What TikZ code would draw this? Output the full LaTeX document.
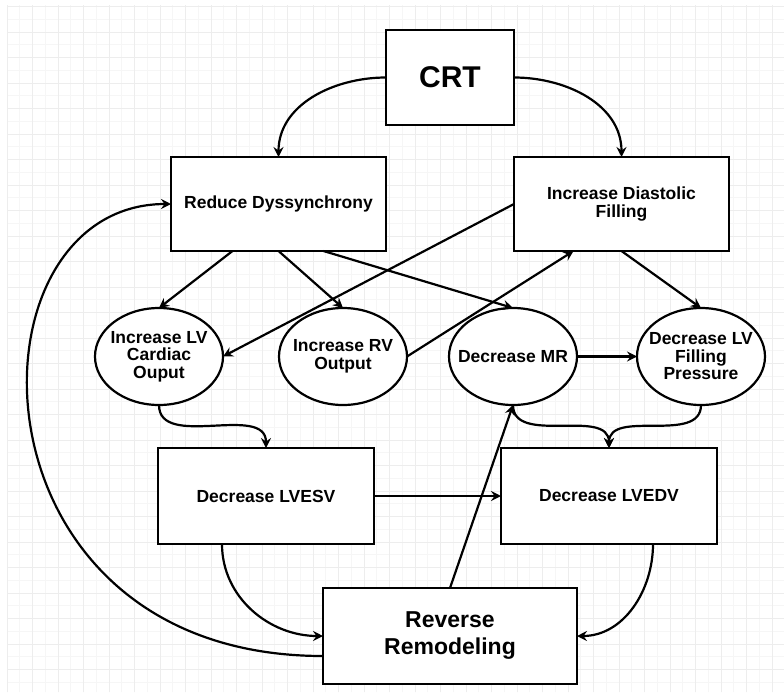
\documentclass[tikz,border=0pt]{standalone}
\usepackage{fontspec}
\setmainfont{Liberation Sans}
\usetikzlibrary{shapes.geometric, arrows.meta, positioning}

\begin{document}
\begin{tikzpicture}[
        x=1pt, y=1pt,
        >={Stealth[length=10pt, width=10pt, inset=3.5pt]},
        box/.style={rectangle, draw, line width=2.2pt, fill=white, outer sep=0pt, minimum width=215pt, minimum height=94pt, align=center, font=\bfseries\fontsize{17.5}{18}\selectfont},
        oval/.style={ellipse, draw, line width=2.2pt, fill=white, outer sep=0pt, minimum width=128pt, minimum height=97pt, inner xsep=-15pt, inner ysep=0pt, align=center, font=\bfseries\fontsize{17.5}{17.5}\selectfont},
        arr/.style={->, line width=2.2pt}
    ]
        % Grid paper
        \useasboundingbox (0,0) rectangle (784,-699);
        \fill[white] (0,0) rectangle (784,-699);
        \begin{scope}[shift={(7,-6.5)}]
            \draw[gray!7, line width=0.8pt, step=12.75] (0,1.5) grid (777,-685.5);
            \draw[gray!14, line width=1pt, step=25.5] (0,1.5) grid (777,-685.5);
        \end{scope}

        % Top row
        \node[box, minimum width=128pt, minimum height=95pt, font=\bfseries\fontsize{30}{34}\selectfont] (crt) at (450,-77.5) {CRT};
        \node[box, below left=32pt and 0pt of crt.south west] (dys) {Reduce Dyssynchrony};
        \node[box, below right=32pt and 0pt of crt.south east] (dia) {Increase Diastolic\\Filling};

        % Middle row
        \node[oval] (lvco) at (159,-356.5) {Increase LV\\Cardiac\\Ouput};
        \node[oval, right=56pt of lvco] (rvo) {Increase RV\\Output};
        \node[oval, right=42pt of rvo] (mr) {Decrease MR};
        \node[oval, right=60pt of mr] (lvfp) {Decrease LV\\Filling\\Pressure};

        % Lower rows
        \node[box, minimum width=216pt, minimum height=96pt] (esv) at (266,-496) {Decrease LVESV};
        \node[box, minimum width=216pt, minimum height=96pt, right=127pt of esv] (edv) {Decrease LVEDV};
        \node[box, minimum width=254pt, minimum height=96pt, font=\bfseries\fontsize{23}{27}\selectfont] (rr) at (450,-636) {Reverse\\Remodeling};

        \draw[arr] (crt.west) to[out=180, in=90] (dys.north);
        \draw[arr] (crt.east) to[out=0, in=90] (dia.north);

        \draw[arr] ([xshift=-46pt]dys.south) -- (lvco.north);
        \draw[arr] (dys.south) -- (rvo.north);
        \draw[arr] ([xshift=45pt]dys.south) -- (mr.north);
        \draw[arr] (dia.south) -- (lvfp.north);
        \draw[arr] (dia.west) -- (lvco.east);
        \draw[arr] (rvo.east) -- ([xshift=-48pt]dia.south);
        \draw[arr] (mr) -- (lvfp);

        \draw[arr] (lvco.south) to[out=-90, in=90] (esv.north);
        \draw[arr] (mr.south) to[out=-90, in=90] (edv.north);
        \draw[arr] (lvfp.south) to[out=-90, in=90] (edv.north);
        \draw[arr] (esv) -- (edv);

        \draw[arr] ([xshift=-44pt]esv.south) to[out=-90, in=180] (rr.west);
        \draw[arr] ([xshift=44pt]edv.south) to[out=-90, in=0] (rr.east);
        \draw[arr] (rr.north) -- (mr.south);
        \draw[arr] ([yshift=-20pt]rr.west) .. controls +(-363,0) and +(-211,0) .. (dys.west);
    \end{tikzpicture}
\end{document}
